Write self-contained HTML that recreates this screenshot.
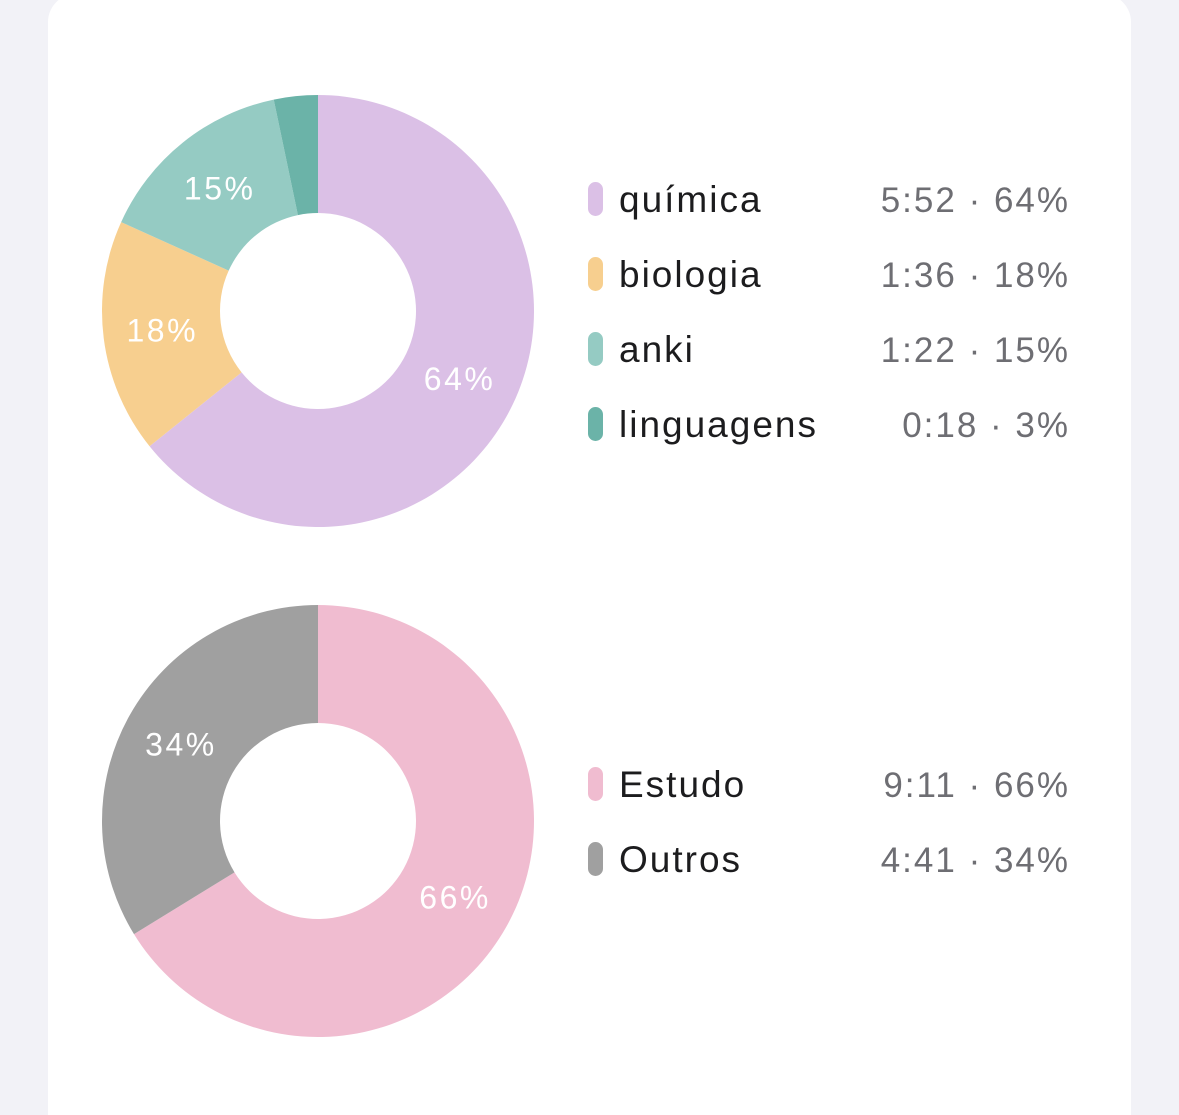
<!DOCTYPE html>
<html><head><meta charset="utf-8">
<style>
html,body{margin:0;padding:0;background:#f2f2f7;width:1179px;height:1115px;overflow:hidden;font-family:"Liberation Sans",sans-serif;position:relative}
#card{position:absolute;left:48px;top:-6px;width:1083px;height:1121px;background:#fff;border-radius:28px 28px 0 0}
svg{position:absolute;left:0;top:0}
</style></head><body>
<div id="card"></div>
<svg id="chart" width="1179" height="1115"></svg>
<script>
const cats1=["química","biologia","anki","linguagens"];
const mins1=[352,96,82,18];
const times1=["5:52","1:36","1:22","0:18"];
const pcts1=["64%","18%","15%","3%"];
const colors1=["#dbc0e6","#f7cf8f","#95cbc3","#6bb3a8"];
const cats2=["Estudo","Outros"];
const mins2=[551,281];
const times2=["9:11","4:41"];
const pcts2=["66%","34%"];
const colors2=["#f0bcd0","#a0a0a0"];
const NS="http://www.w3.org/2000/svg";
const svg=document.getElementById('chart');
function mk(t,a){const e=document.createElementNS(NS,t);for(const k in a)e.setAttribute(k,a[k]);return e;}
function pt(cx,cy,r,f){const a=f*2*Math.PI;return [cx+r*Math.sin(a),cy-r*Math.cos(a)];}
function donut(cx,cy,vals,cols,pcts,cats,times,legY,id){
  const R=216,r=98,tot=vals.reduce((a,b)=>a+b,0);let acc=0;
  vals.forEach((v,i)=>{
    const f0=acc/tot,f1=(acc+v)/tot;acc+=v;
    const [x0,y0]=pt(cx,cy,R,f0),[x1,y1]=pt(cx,cy,R,f1),[x2,y2]=pt(cx,cy,r,f1),[x3,y3]=pt(cx,cy,r,f0);
    const lg=(f1-f0)>0.5?1:0;
    const p=mk('path',{d:`M${x0},${y0}A${R},${R} 0 ${lg} 1 ${x1},${y1}L${x2},${y2}A${r},${r} 0 ${lg} 0 ${x3},${y3}Z`,fill:cols[i]});
    
    
    svg.appendChild(p);
    if(v/tot>0.05){
      const [lx,ly]=pt(cx,cy,157,(f0+f1)/2);
      const t=mk('text',{x:lx,y:ly+11,'text-anchor':'middle',fill:'#fff','font-size':32,'letter-spacing':2.5});
      t.textContent=pcts[i];
      
      
      svg.appendChild(t);
    }
    const y=legY+i*75;
    const m=mk('rect',{x:588,y:y-17,width:15,height:34,rx:7.5,fill:cols[i]});
    
    
    svg.appendChild(m);
    const lt=mk('text',{x:619,y:y+13,fill:'#1c1c1e','font-size':37,'letter-spacing':2});
    lt.textContent=cats[i];
    
    
    svg.appendChild(lt);
    const vt=mk('text',{x:1070,y:y+13,'text-anchor':'end',fill:'#6e6e73','font-size':35,'letter-spacing':2});
    vt.textContent=times[i]+' · '+pcts[i];
    
    
    svg.appendChild(vt);
  });
}
donut(318,311,mins1,colors1,pcts1,cats1,times1,199,'subjects');
donut(318,821,mins2,colors2,pcts2,cats2,times2,784,'activity');
</script>
</body></html>
